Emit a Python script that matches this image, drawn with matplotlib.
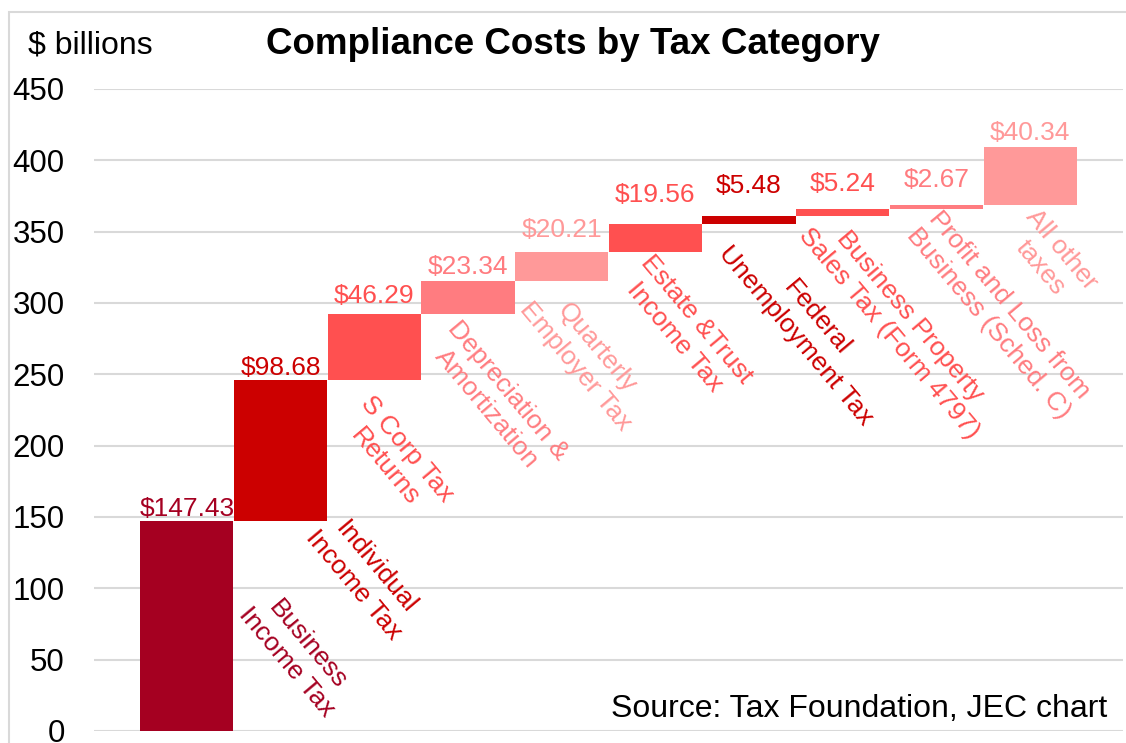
import matplotlib.pyplot as plt
from matplotlib.patches import Rectangle

plt.rcParams['font.family'] = ['Liberation Sans', 'DejaVu Sans']

# data ($ billions)
categories = ["Business\nIncome Tax", "Individual\nIncome Tax", "S Corp Tax\nReturns",
              "Depreciation &\nAmortization", "Quarterly\nEmployer Tax",
              "Estate &Trust\nIncome Tax", "Federal\nUnemployment Tax",
              "Business Property\nSales Tax (Form 4797)",
              "Profit and Loss from\nBusiness (Sched. C)", "All other\ntaxes"]
costs = [147.43, 98.68, 46.29, 23.34, 20.21, 19.56, 5.48, 5.24, 2.67, 40.34]
yticks = [0, 50, 100, 150, 200, 250, 300, 350, 400, 450]

colors = ["#A50021", "#CC0000", "#FF5050", "#FF7C80", "#FF9999",
          "#FF5050", "#CC0000", "#FF5050", "#FF7C80", "#FF9999"]
# label placement (pixels) - excel labels were nudged by hand
value_dy = [5, 5, 11, 7, 15, 22, 23, 18, 18, 7]
name_off = [(94, 146), (68, 13), (7, -12), (1, -3), (0, 1),
            (6, 1), (12, 0), (-2, 10), (12, 3), (17, 0)]

bases = []
total = 0
for c in costs:
    bases.append(total)
    total += c

fig = plt.figure(figsize=(11.26, 7.43), dpi=100)
ax = fig.add_axes([94 / 1126, 12 / 743, (1123 - 94) / 1126, (731 - 89) / 743])

x = list(range(len(costs)))
ax.bar(x, costs, bottom=bases, width=0.995, color=colors, zorder=2)

for i in x:
    ax.annotate("$%.2f" % costs[i], (i, bases[i] + costs[i]),
                xytext=(0, value_dy[i]), textcoords='offset pixels',
                ha='center', va='baseline', fontsize=19, color=colors[i])
    ax.annotate(categories[i], (i - 0.5, bases[i]),
                xytext=name_off[i], textcoords='offset pixels',
                ha='left', va='top', rotation=-50, multialignment='center',
                fontsize=19, color=colors[i], linespacing=1.2)

ax.set_xlim(-0.99, 9.99)
ax.set_ylim(0, 450)
ax.set_yticks(yticks)
ax.set_xticks([])
ax.yaxis.grid(True, color="#D9D9D9", linewidth=1.5, zorder=0)
ax.tick_params(axis='y', length=0, pad=21, labelsize=22.5)
for s in ax.spines.values():
    s.set_visible(False)

ax.text(0.985, 0.035, "Source: Tax Foundation, JEC chart", transform=ax.transAxes,
        ha='right', va='center', fontsize=23)
fig.text(28 / 1126, 1 - 45 / 743, "$ billions", ha='left', va='center', fontsize=23)
fig.text(573 / 1126, 1 - 45 / 743, "Compliance Costs by Tax Category", ha='center',
         va='center', fontsize=26.5, fontweight='bold')

# chart-area border (top and left visible in the crop)
fig.patches.append(Rectangle((9 / 1126, -0.1), 1.5, 1.1 - 12 / 743, transform=fig.transFigure,
                             fill=False, edgecolor="#D9D9D9", linewidth=1.5, zorder=0))

fig.savefig("out.png", dpi=100)
